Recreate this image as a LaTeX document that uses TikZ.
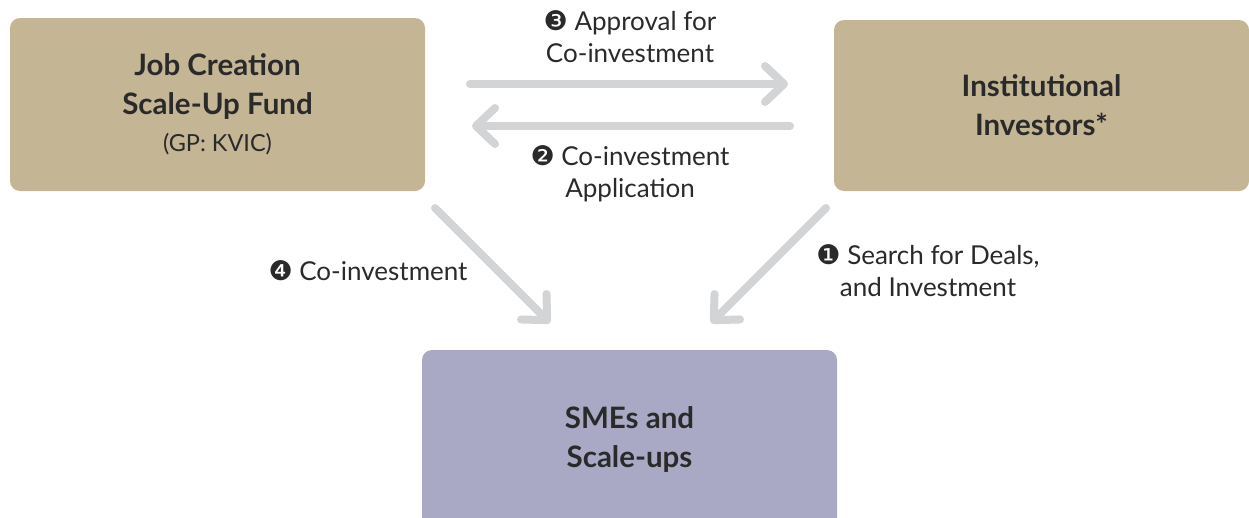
\documentclass[tikz,border=0pt]{standalone}
\usepackage{fontspec}
\setmainfont{Lato}
\newfontfamily\dingfont{DejaVu Sans}
\usetikzlibrary{arrows.meta}
\definecolor{tan}{HTML}{C4B594}
\definecolor{lav}{HTML}{A9A8C5}
\definecolor{arrowgray}{HTML}{D3D4D6}
\definecolor{txt}{HTML}{2A2A2A}
\newcommand{\numc}[1]{{\dingfont\fontsize{27}{27}\selectfont #1}}
\tikzset{
  box/.style={rounded corners=10pt, minimum width=415pt, inner sep=0pt, text=txt, align=center,
    font=\fontsize{29.5}{39}\selectfont\bfseries},
  conn/.style={draw=arrowgray, line width=8pt, line cap=round,
    -{Straight Barb[length=19pt, width=36pt, round]}},
  lbl/.style={text=txt, align=center, inner sep=0pt, font=\fontsize{26}{32}\selectfont}
}
\begin{document}
\begin{tikzpicture}[x=1pt,y=-1pt]
\useasboundingbox (0,0) rectangle (1249,517);
\clip (0,0) rectangle (1249,517);
\node[box, fill=tan, minimum height=173pt] (fund) at (217.5,104.5)
  {Job Creation\\Scale-Up Fund\\[-2pt]{\fontsize{23.5}{28}\selectfont\mdseries (GP: KVIC)}};
\node[box, fill=tan, minimum height=171pt] (inv) at (1041.5,105.5) {Institutional\\Investors*};
\node[box, fill=lav, minimum height=180pt] (sme) at (629.5,440) {SMEs and\\Scale-ups};
% connector end points
\coordinate (a3s) at (470,84);
\coordinate (a3e) at (788,84);
\coordinate (a2s) at (790,126);
\coordinate (a2e) at (472,126);
\coordinate (a4s) at (435,208);
\coordinate (a4e) at (550,323);
\coordinate (a1s) at (826,208);
\coordinate (a1e) at (711,323);
\draw[conn] (a3s) -- (a3e);
\draw[conn] (a2s) -- (a2e);
\draw[conn] (a4s) -- (a4e);
\draw[conn] (a1s) -- (a1e);
\node[lbl] (l3) at (630,37) {\numc{❸} Approval for\\Co-investment};
\node[lbl] (l2) at (630,174) {\numc{❷} Co-investment\\Application};
\node[lbl] (l4) at (368,271) {\numc{❹} Co-investment};
\node[lbl] (l1) at (928,271) {\numc{❶} Search for Deals,\\and Investment};
\end{tikzpicture}
\end{document}
